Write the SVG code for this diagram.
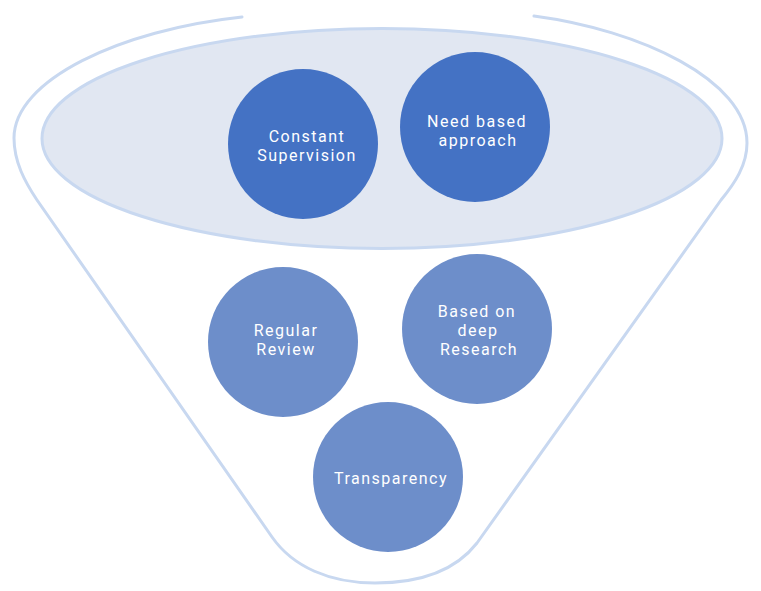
<svg xmlns="http://www.w3.org/2000/svg" width="761" height="591" viewBox="0 0 761 591">
<style>
.outline{fill:none;stroke:#C8D8F0;stroke-width:3;stroke-linecap:round;stroke-linejoin:round}
.rim{fill:#E1E7F2;stroke:#C8D8F0;stroke-width:3}
.dark{fill:#4472C4}
.light{fill:#6D8ECA}
.lbl{fill:#FFFFFF;font-family:Roboto,"Liberation Sans",sans-serif;font-size:16px;letter-spacing:1.5px;text-anchor:middle}
</style>
<rect width="761" height="591" fill="#FFFFFF"/>
<g id="funnel">
<path class="outline" d="M242,17 C120,30 14,80 14,138 C14,162 25,182 37,200 L272,537 C293,567 330,583 375,583 C420,583 456,570 477,543 L721,200 C735,183 747,165 747,143 C747,80 640,30 534,16"/>
<ellipse class="rim" cx="382" cy="138.5" rx="340" ry="110"/>
</g>
<g id="constant-supervision">
<circle class="dark" cx="303" cy="144" r="75"/>
<text class="lbl" x="307" y="142">Constant</text>
<text class="lbl" x="307" y="161">Supervision</text>
</g>
<g id="need-based-approach">
<circle class="dark" cx="475" cy="127" r="75"/>
<text class="lbl" x="477" y="127">Need based</text>
<text class="lbl" x="478" y="146">approach</text>
</g>
<g id="regular-review">
<circle class="light" cx="283" cy="342" r="75"/>
<text class="lbl" x="286" y="336">Regular</text>
<text class="lbl" x="286" y="355">Review</text>
</g>
<g id="based-on-deep-research">
<circle class="light" cx="477" cy="329" r="75"/>
<text class="lbl" x="477" y="317">Based on</text>
<text class="lbl" x="478" y="336">deep</text>
<text class="lbl" x="479" y="355">Research</text>
</g>
<g id="transparency">
<circle class="light" cx="388" cy="477" r="75"/>
<text class="lbl" x="391" y="484">Transparency</text>
</g>
<g id="connectors"/>
</svg>
